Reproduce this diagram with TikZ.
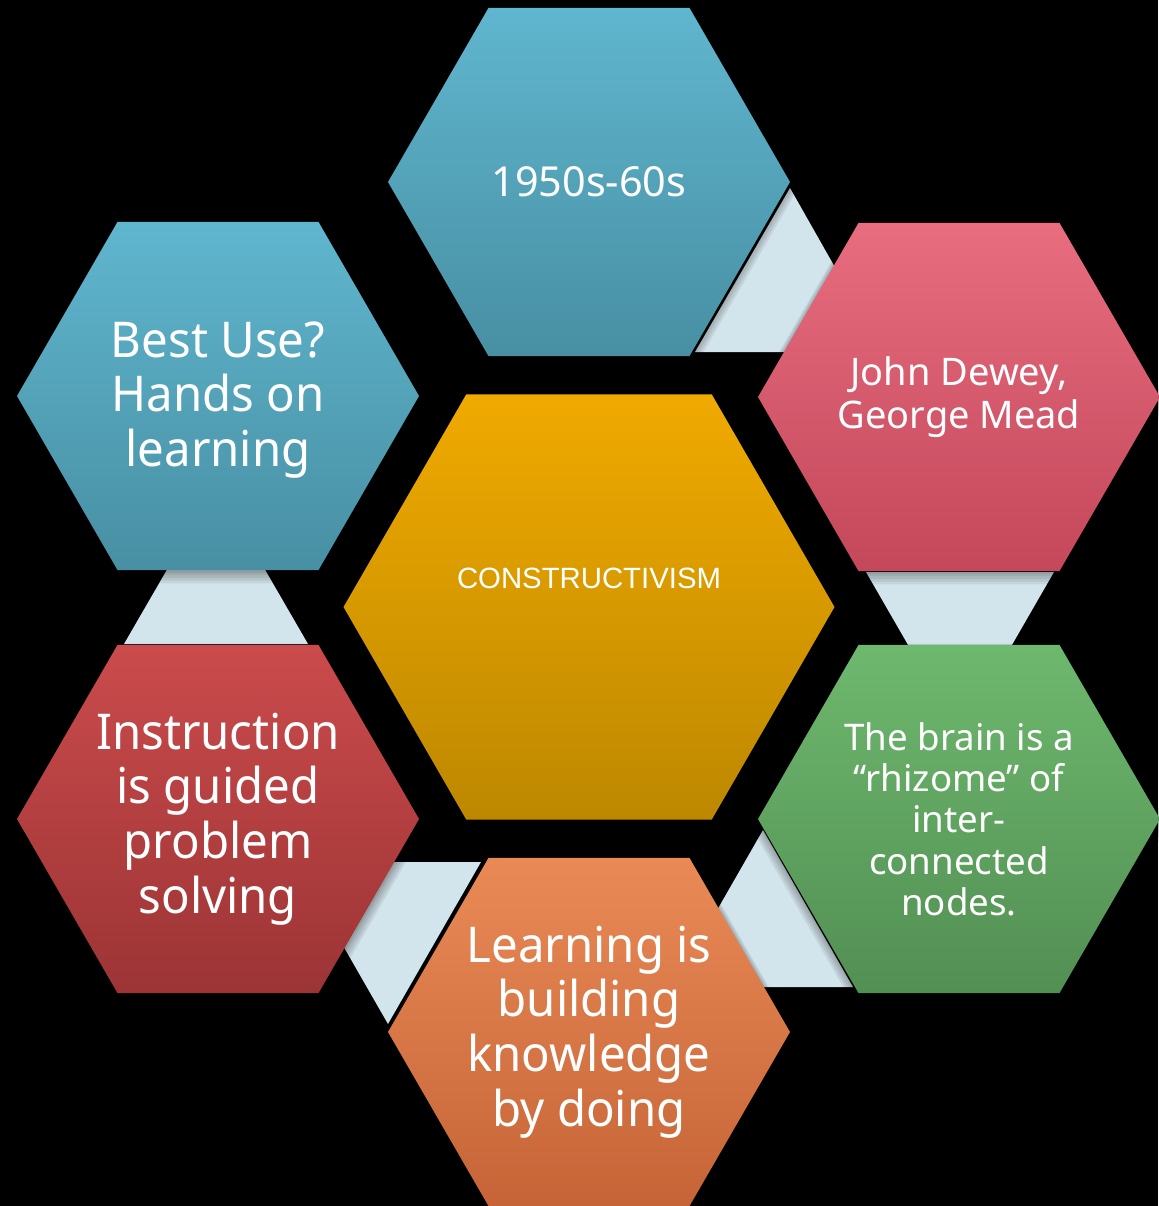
\documentclass[tikz,border=0pt]{standalone}
\usepackage{fontspec}
\setmainfont{Noto Sans}
\newfontfamily\arialfont{Liberation Sans}
\newfontfamily\narrowfont[FakeStretch=0.96]{Noto Sans}
\usetikzlibrary{shapes.geometric}
\definecolor{conn}{RGB}{211,229,236}
\definecolor{tealT}{RGB}{95,182,206}
\definecolor{tealB}{RGB}{72,143,163}
\definecolor{pinkT}{RGB}{231,109,127}
\definecolor{pinkB}{RGB}{196,71,90}
\definecolor{goldT}{RGB}{240,170,0}
\definecolor{goldB}{RGB}{189,136,0}
\definecolor{greenT}{RGB}{110,184,110}
\definecolor{greenB}{RGB}{82,143,83}
\definecolor{redT}{RGB}{203,75,76}
\definecolor{redB}{RGB}{156,52,53}
\definecolor{orT}{RGB}{233,138,86}
\definecolor{orB}{RGB}{198,100,55}
\tikzset{
  hexbase/.style={regular polygon, regular polygon sides=6, inner sep=0pt, outer sep=0pt, draw=none},
  smallhex/.style={hexbase, minimum size=301.5pt},
  bighex/.style={hexbase, minimum size=368.25pt},
  shadowA/.style={fill=black, fill opacity=0.07},
  connector/.style={fill=conn},
  lbl/.style={text=white, align=center, inner sep=0pt},
  bigtxt/.style={lbl, font=\narrowfont\fontsize{37}{41}\selectfont},
  midtxt/.style={lbl, font=\fontsize{27.5}{31}\selectfont},
}
\begin{document}
\begin{tikzpicture}[x=0.75pt,y=-0.75pt]
\fill[black] (0,0) rectangle (1158,1206);
\useasboundingbox (0,0) rectangle (1158,1206);
% connectors
\fill[connector] (790,188) -- (883,352) -- (695,352) -- cycle;
\fill[connector] (866,572) -- (1054,572) -- (960,735) -- cycle;
\fill[connector] (763,830) -- (853,987) -- (673,987) -- cycle;
\fill[connector] (295,862) -- (481,862) -- (388,1024) -- cycle;
\fill[connector] (216,485) -- (308,644) -- (124,644) -- cycle;
% soft shadows
\foreach \cx/\cy in {589/182, 959/397, 218/396, 959/819, 218/819, 589/1032}{
  \foreach \s/\d in {314/6, 311/5, 308/4, 305/3, 303/2}{
    \node[smallhex, shadowA, minimum size=\s pt] at (\cx,\cy+\d) {};
  }
}
% hexagons
\node[bighex, top color=goldT, bottom color=goldB] (center) at (589,607) {};
\node[smallhex, top color=tealT, bottom color=tealB] (top) at (589,182) {};
\node[smallhex, top color=pinkT, bottom color=pinkB] (ur) at (959,397) {};
\node[smallhex, top color=tealT, bottom color=tealB] (ul) at (218,396) {};
\node[smallhex, top color=greenT, bottom color=greenB] (lr) at (959,819) {};
\node[smallhex, top color=redT, bottom color=redB] (ll) at (218,819) {};
\node[smallhex, top color=orT, bottom color=orB] (bot) at (589,1032) {};
% labels
\node[lbl, font=\arialfont\fontsize{22}{26}\selectfont] (tc) at (589,578) {CONSTRUCTIVISM};
\node[lbl, font=\fontsize{31}{36}\selectfont] (t1) at (top.center) {1950s-60s};
\node[midtxt, font=\fontsize{28.5}{32}\selectfont] (t2) at (ur.center) {John Dewey,\\George Mead};
\node[bigtxt] (t3) at (218,400) {Best Use?\\Hands on\\learning};
\node[midtxt] (t4) at (lr.center) {The brain is a\\“rhizome” of\\inter-\\connected\\nodes.};
\node[bigtxt] (t5) at (ll.center) {Instruction\\is guided\\problem\\solving};
\node[bigtxt] (t6) at (bot.center) {Learning is\\building\\knowledge\\by doing};
\end{tikzpicture}
\end{document}
